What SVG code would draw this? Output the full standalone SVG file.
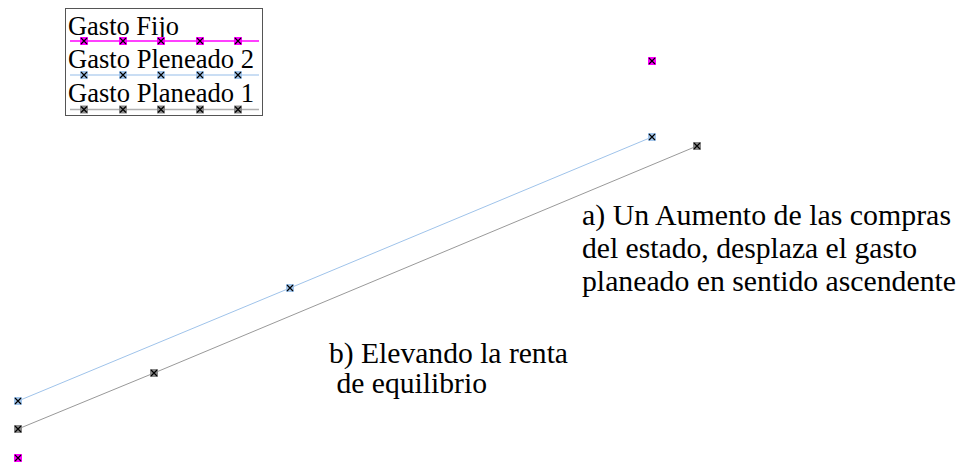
<svg xmlns="http://www.w3.org/2000/svg" xmlns:xlink="http://www.w3.org/1999/xlink" width="966" height="466" viewBox="0 0 966 466">
  <style>
    text { font-family: "Liberation Serif", "Times New Roman", Times, "Nimbus Roman", "Nimbus Roman No9 L", FreeSerif, Tinos, "DejaVu Serif", "Noto Serif", Georgia, serif; fill: #000; }
    .leg { font-size: 26.5px; }
    .ann { font-size: 29.6px; }
    .xm { stroke: #000; stroke-width: 1.2; }
  </style>
  <defs>
    <g id="mk-mag"><rect x="-4" y="-4" width="8" height="8" fill="#ff00ff"/><path class="xm" d="M-3,-3L3,3M3,-3L-3,3"/></g>
    <g id="mk-blue"><rect x="-4" y="-4" width="8" height="8" fill="#a3c6ec"/><path class="xm" d="M-3,-3L3,3M3,-3L-3,3"/></g>
    <g id="mk-gray"><rect x="-4" y="-4" width="8" height="8" fill="#8a8a8a"/><path class="xm" d="M-3,-3L3,3M3,-3L-3,3"/></g>
  </defs>
  <rect width="966" height="466" fill="#fff"/>

  <g id="legend">
    <rect x="65.5" y="8.5" width="197" height="107" fill="#fff" stroke="#555" stroke-width="1"/>
    <text class="leg" x="68" y="35" textLength="111" lengthAdjust="spacingAndGlyphs">Gasto Fijo</text>
    <line x1="70" y1="41" x2="259" y2="41" stroke="#ff00ff" stroke-width="1.5"/>
    <use xlink:href="#mk-mag" x="84" y="41"/><use xlink:href="#mk-mag" x="123" y="41"/><use xlink:href="#mk-mag" x="161" y="41"/><use xlink:href="#mk-mag" x="200" y="41"/><use xlink:href="#mk-mag" x="238" y="41"/>
    <text class="leg" x="68" y="68" textLength="186" lengthAdjust="spacingAndGlyphs">Gasto Pleneado 2</text>
    <line x1="70" y1="75" x2="259" y2="75" stroke="#b8d3f0" stroke-width="1.5"/>
    <use xlink:href="#mk-blue" x="84" y="75"/><use xlink:href="#mk-blue" x="123" y="75"/><use xlink:href="#mk-blue" x="161" y="75"/><use xlink:href="#mk-blue" x="200" y="75"/><use xlink:href="#mk-blue" x="238" y="75"/>
    <text class="leg" x="68" y="102" textLength="186" lengthAdjust="spacingAndGlyphs">Gasto Planeado 1</text>
    <line x1="70" y1="109.5" x2="259" y2="109.5" stroke="#b0b0b0" stroke-width="1.5"/>
    <use xlink:href="#mk-gray" x="84" y="109.5"/><use xlink:href="#mk-gray" x="123" y="109.5"/><use xlink:href="#mk-gray" x="161" y="109.5"/><use xlink:href="#mk-gray" x="200" y="109.5"/><use xlink:href="#mk-gray" x="238" y="109.5"/>
  </g>

  <g id="connectors">
    <polyline points="18,401 290,288 652,137" fill="none" stroke="#9fc3ea" stroke-width="1"/>
    <polyline points="18,429 154,373 697,146" fill="none" stroke="#999" stroke-width="1"/>
  </g>

  <g id="gasto-fijo">
    <use xlink:href="#mk-mag" x="18" y="458"/>
    <use xlink:href="#mk-mag" x="652" y="61"/>
  </g>
  <g id="gasto-planeado-2">
    <use xlink:href="#mk-blue" x="18" y="401"/>
    <use xlink:href="#mk-blue" x="290" y="288"/>
    <use xlink:href="#mk-blue" x="652" y="137"/>
  </g>
  <g id="gasto-planeado-1">
    <use xlink:href="#mk-gray" x="18" y="429"/>
    <use xlink:href="#mk-gray" x="154" y="373"/>
    <use xlink:href="#mk-gray" x="697" y="146"/>
  </g>

  <g id="label-a">
    <text class="ann" x="582" y="225" textLength="369" lengthAdjust="spacingAndGlyphs">a) Un Aumento de las compras</text>
    <text class="ann" x="582" y="258" textLength="335" lengthAdjust="spacingAndGlyphs">del estado, desplaza el gasto</text>
    <text class="ann" x="582" y="291" textLength="374" lengthAdjust="spacingAndGlyphs">planeado en sentido ascendente</text>
  </g>
  <g id="label-b">
    <text class="ann" x="329" y="363" textLength="239" lengthAdjust="spacingAndGlyphs">b) Elevando la renta</text>
    <text class="ann" x="329" y="393" textLength="158" lengthAdjust="spacingAndGlyphs" xml:space="preserve"> de equilibrio</text>
  </g>
</svg>
